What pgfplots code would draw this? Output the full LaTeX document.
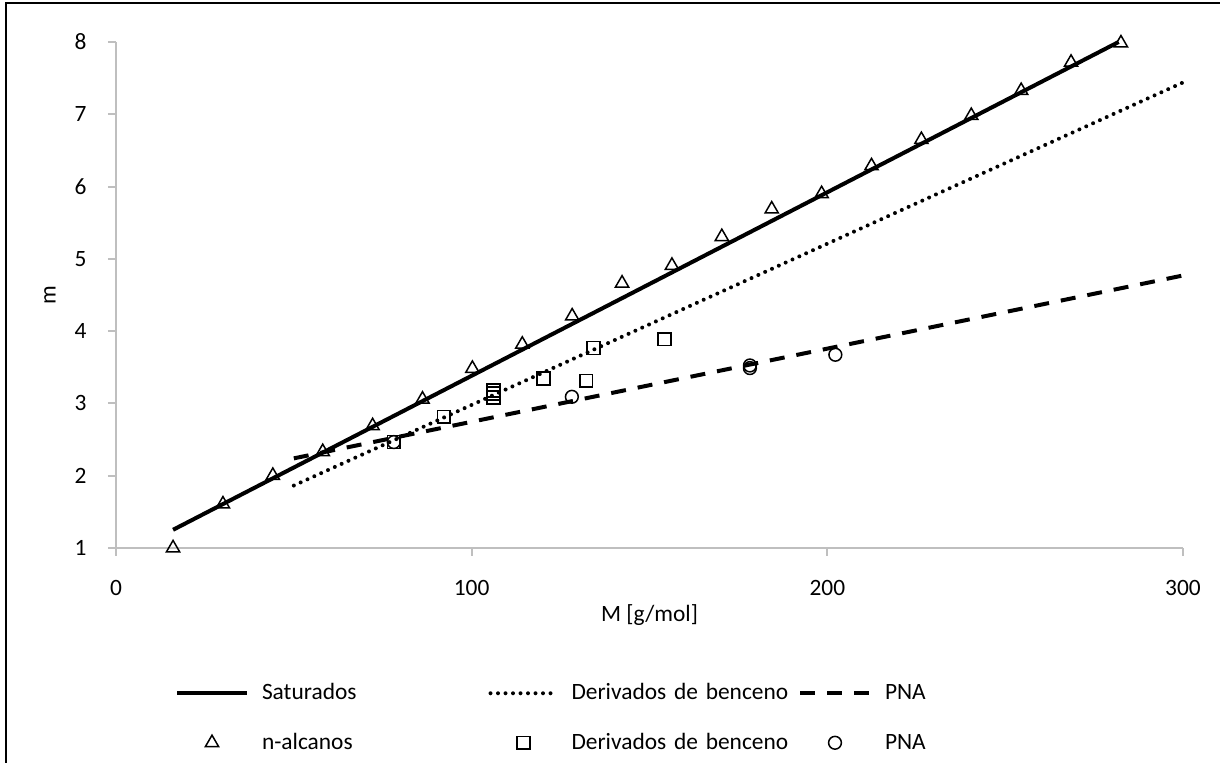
\documentclass[border=0pt]{standalone}
\usepackage{pgfplots}
\pgfplotsset{compat=1.18}
\usepackage{fontspec}
\setmainfont{Carlito}
\definecolor{axgray}{HTML}{BFBFBF}
\pgfplotsset{
  lineleg/.style={legend image code/.code={\draw[##1] (0pt,0pt) -- (35pt,0pt);}},
  dotleg/.style={legend image code/.code={\draw[##1] (1pt,0pt) -- (34pt,0pt);}},
  markleg/.style={legend image code/.code={\draw[##1] plot coordinates {(17.5pt,0pt)};}},
}
\begin{document}
\fontsize{11.7}{14}\selectfont
\begin{tikzpicture}
\path[use as bounding box] (-58pt,-107.5pt) rectangle (552pt,274pt);
\draw[line width=1pt] (-55pt,-107.5pt) -- (-55pt,272.5pt) -- (552pt,272.5pt);
\begin{axis}[
  at={(0,0)}, anchor=south west,
  width=533.5pt, height=253pt, scale only axis,
  xmin=0, xmax=300, ymin=1, ymax=8,
  xtick={0,100,200,300}, ytick={1,2,3,4,5,6,7,8},
  axis lines*=left,
  axis line style={draw=axgray, line width=1pt},
  tick style={draw=axgray, line width=1pt},
  tick align=outside, major tick length=4pt,
  clip=false,
  /pgf/number format/assume math mode=true,
  every tick label/.append style={font=\fontsize{11.7}{14}\selectfont, text=black},
  xticklabel style={anchor=base, inner sep=0pt, yshift=-19.7pt},
  yticklabel style={anchor=east, inner sep=0pt, xshift=-10.5pt},
  xlabel={M [g/mol]},
  xlabel style={at={(axis description cs:0.5,-0.132)}, anchor=center, font=\fontsize{11.7}{14}\selectfont},
  ylabel={m},
  ylabel style={at={(axis description cs:-0.062,0.5)}, anchor=center, font=\fontsize{11.7}{14}\selectfont},
  legend columns=3,
  legend cell align=left,
  legend style={draw=none, fill=none, inner sep=0pt, outer sep=0pt,
    at={(axis description cs:0.0553,-0.2599)}, anchor=north west,
    row sep=11pt, column sep=0pt,
    font=\fontsize{11.7}{14}\selectfont,
    /tikz/every even column/.append style={text width=115.75pt, align=left, inner xsep=0pt, inner ysep=0pt, text height=8pt, text depth=2.5pt},
  },
]
% lines
\addplot[black, line width=2pt, lineleg]
  coordinates {(16.043,1.2516) (281.9,8.0)};
\addlegendentry{\hspace*{4.5pt}Saturados}
\addplot[black, line width=2pt, line cap=round, dash pattern=on 0pt off 3.75pt, dotleg]
  coordinates {(50,1.864) (300,7.44)};
\addlegendentry{\hspace*{4.5pt}Derivados de benceno}
\addplot[black, line width=2pt, dash pattern=on 7.5pt off 6pt, lineleg]
  coordinates {(50,2.24) (300,4.77)};
\addlegendentry{\hspace*{4.5pt}PNA}
% markers
\addplot[only marks, mark=triangle, mark size=3.8pt, mark options={black, line width=0.75pt}, markleg]
  coordinates {
  (16.043,1.0000) (30.070,1.6069) (44.097,2.0020) (58.123,2.3316) (72.150,2.6896)
  (86.177,3.0576) (100.204,3.4831) (114.231,3.8176) (128.258,4.2079) (142.285,4.6627)
  (156.312,4.9082) (170.338,5.3060) (184.365,5.6877) (198.392,5.9002) (212.419,6.2855)
  (226.446,6.6485) (240.473,6.9809) (254.500,7.3271) (268.527,7.7175) (282.553,7.9849)};
\addlegendentry{\hspace*{4.5pt}n-alcanos}
\addplot[only marks, mark=square, mark size=3.2pt, mark options={black, line width=0.75pt}, markleg]
  coordinates {
  (78.114,2.4653) (92.141,2.8149) (106.167,3.0799) (106.167,3.1362) (106.167,3.1861)
  (106.167,3.1723) (120.194,3.3438) (132.2,3.3131) (134.221,3.7662) (154.21,3.8877)};
\addlegendentry{\hspace*{4.5pt}Derivados de benceno}
\addplot[only marks, mark=o, mark size=3.2pt, mark options={black, line width=0.75pt}, markleg]
  coordinates {
  (78.114,2.4653) (128.174,3.0915) (178.234,3.5251) (178.234,3.4890) (202.256,3.6735)};
\addlegendentry{\hspace*{4.5pt}PNA}
\end{axis}
\end{tikzpicture}
\end{document}
